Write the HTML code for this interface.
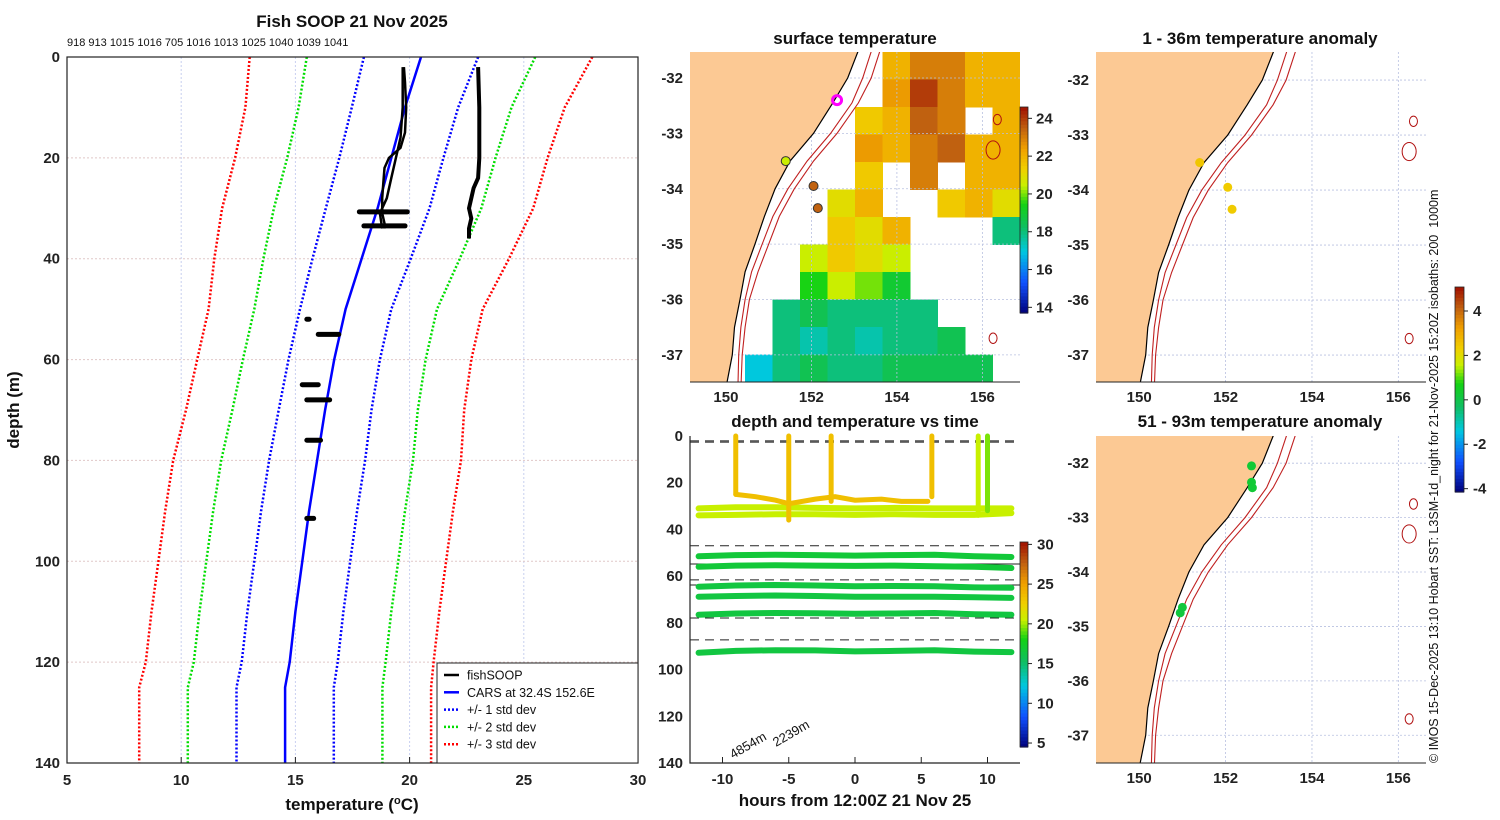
<!DOCTYPE html>
<html><head><meta charset="utf-8">
<style>
html,body{margin:0;padding:0;background:#fff;}
svg{display:block;font-family:"Liberation Sans","DejaVu Sans",sans-serif;}
.tk{font-weight:bold;font-size:15px;fill:#222;}
.ttl{font-weight:bold;font-size:17px;fill:#111;}
</style></head>
<body>
<svg id="fig" width="1500" height="820" viewBox="0 0 1500 820" xmlns="http://www.w3.org/2000/svg">
<rect width="1500" height="820" fill="#fff"/>
<text class="ttl" x="352" y="27" text-anchor="middle">Fish SOOP 21 Nov 2025</text>
<text x="67" y="46" font-size="11" fill="#111">918 913 1015 1016 705 1016 1013 1025 1040 1039 1041</text>
<text class="ttl" x="352" y="810" text-anchor="middle">temperature (<tspan font-size="11" dy="-6">o</tspan><tspan dy="6">C)</tspan></text>
<text class="ttl" transform="translate(19,410) rotate(-90)" text-anchor="middle">depth (m)</text>
<text class="ttl" x="855" y="44" text-anchor="middle">surface temperature</text>
<text class="ttl" x="855" y="427" text-anchor="middle">depth and temperature vs time</text>
<text class="ttl" x="855" y="806" text-anchor="middle">hours from 12:00Z 21 Nov 25</text>
<text class="ttl" x="1260" y="44" text-anchor="middle">1 - 36m temperature anomaly</text>
<text class="ttl" x="1260" y="427" text-anchor="middle">51 - 93m temperature anomaly</text>
<text transform="translate(1438,763) rotate(-90)" font-size="12.5" fill="#111">© IMOS 15-Dec-2025 13:10 Hobart SST: L3SM-1d_night for 21-Nov-2025 15:20Z isobaths: 200&#160;&#160;1000m</text>
<g id="g"></g>
</svg>
<script>
// ---------- DATA ----------
const cDepth=[0,10,20,30,40,50,60,70,80,90,100,110,120,125,130,140];
const cMean=[20.5,19.8,19.2,18.6,17.9,17.2,16.7,16.3,15.95,15.6,15.3,15.0,14.75,14.55,14.55,14.55];
const cSd=[2.5,2.33,2.28,2.27,2.15,2.0,2.0,2.03,2.1,2.1,2.1,2.1,2.1,2.13,2.13,2.13];
const fA_d=[2,5,10,15,18,20,22,25,28,31,33,34];
const fA_t=[19.75,19.8,19.85,19.8,19.6,19.1,18.9,18.85,18.8,18.8,18.9,18.9];
const fB_d=[2,10,16,20,24,28,31,34];
const fB_t=[19.7,19.7,19.6,19.4,19.2,19.0,18.7,18.8];
const fC_d=[2,10,20,24,26,28,30,32,34,36];
const fC_t=[23.0,23.05,23.05,23.0,22.8,22.7,22.6,22.7,22.6,22.6];
const blobD=[30.7,33.5,52,55,65,68,76,91.5];
const blobT0=[17.8,18.0,15.5,16.0,15.3,15.5,15.5,15.5];
const blobT1=[19.9,19.8,15.6,16.9,16.0,16.5,16.1,15.8];
// SST grid 12x12 (0 = no data)
const sst=[
[0,0,0,0,0,0,0,22,23,23,22,22],
[0,0,0,0,0,0,0,22.5,24,23,22,22],
[0,0,0,0,0,0,21.5,22,23.5,23,0,22],
[0,0,0,0,0,0,22.5,22,23,23.5,22,22],
[0,0,0,0,0,0,21.5,0,23,0,22,22],
[0,0,0,0,0,21,22,0,0,21.5,22,21],
[0,0,0,0,0,21.5,21,22,0,0,0,18],
[0,0,0,0,20.5,21.5,21,20.5,0,0,0,0],
[0,0,0,0,19.5,20.5,20,19,0,0,0,0],
[0,0,0,18,18.5,18,18,18,18,0,0,0],
[0,0,0,18,17.5,18,17.5,18,18,18.5,0,0],
[0,0,17,18,18.5,18,18,18.5,18.5,18.5,18.5,0]];
const coastLon=[153.15,152.85,152.5,152.05,151.5,151.15,150.9,150.68,150.45,150.33,150.2,150.15,150.0];
const coastLat=[-31.4,-32.0,-32.45,-33.0,-33.5,-34.0,-34.5,-35.0,-35.5,-36.0,-36.5,-37.0,-37.6];
const iso200=[153.45,153.2,152.95,152.45,151.9,151.45,151.1,150.85,150.6,150.45,150.35,150.3,150.28];
const iso1000=[153.65,153.4,153.1,152.6,152.05,151.6,151.25,151.0,150.75,150.55,150.45,150.38,150.35];
const sstDotLon=[152.6,151.4,152.05,152.15];
const sstDotLat=[-32.4,-33.5,-33.95,-34.35];
const sstDotVal=[null,20.5,23.5,23.5];
const anomTopLon=[151.4,152.05,152.15];
const anomTopLat=[-33.5,-33.95,-34.35];
const anomTopVal=[2.5,2.4,2.4];
const anomBotLon=[152.6,152.6,152.62,151.0,150.95];
const anomBotLat=[-32.05,-32.35,-32.45,-34.65,-34.75];
const anomBotVal=[0.3,0.3,0.3,0.2,0.2];
const trkHours=[-12,-9,-6,-3,0,3,6,9,12];
const trkDepth=[[31,30.5,30.5,30.8,31,30.8,31,31,31],[34,33.8,33.5,33.5,33.8,33.5,33.8,33.8,33],
[51.5,51,50.8,51,51.2,51,50.8,51.5,51.8],[56,55.5,55.3,55.5,55.6,55.5,55.8,56,56.5],
[64.5,64,63.8,64,64.3,64.2,64.3,64.8,65],[68.8,68.5,68.3,68.5,68.8,68.8,68.8,69,69.3],
[76.5,76,75.8,75.9,76.1,76,75.8,76.3,76.5],[92.8,92,91.7,91.8,92.2,92,91.7,92.3,92.5]];
const trkTemp=[20.5,20.5,16.8,16.8,16.5,16.5,16.5,16.5];
const vHours=[-9,-5,-1.8,5.8,9.3,10];
const vBottom=[25,36,28,26,34,32];
const vTemp=[23.5,23.5,23.5,23.5,20.5,19.5];
const ridgeHours=[-9,-7.5,-6,-5,-3,-1.5,0,2,3.5,5.5];
const ridgeDepth=[25,26,27.5,29,27,26,27.5,27,28,28];
const dashDepths=[2.1,2.6,47,54.8,61.6,63.8,77.9,87.3];

// ---------- HELPERS ----------
const NS='http://www.w3.org/2000/svg';
const G=document.getElementById('g');
function el(t,a,p){const e=document.createElementNS(NS,t);for(const k in a)e.setAttribute(k,a[k]);(p||G).appendChild(e);return e;}
const stops=[[0,[0,0,120]],[0.15,[16,80,255]],[0.3,[0,200,224]],[0.42,[16,190,96]],[0.53,[20,210,20]],[0.62,[200,240,0]],[0.7,[240,208,0]],[0.8,[240,160,0]],[0.9,[192,96,16]],[1,[160,16,0]]];
function cmap(f){f=Math.max(0,Math.min(1,f));for(let i=1;i<stops.length;i++){if(f<=stops[i][0]){const a=stops[i-1],b=stops[i];const u=(f-a[0])/(b[0]-a[0]);const c=a[1].map((v,j)=>Math.round(v+(b[1][j]-v)*u));return `rgb(${c})`;}}return 'rgb(160,16,0)';}

// ---------- LEFT PROFILE PLOT ----------
const X=t=>67+(t-5)*571/25, Y=d=>57+d*706/140;
for(const t of [10,15,20,25]){const l=el('line',{x1:X(t),x2:X(t),y1:57,y2:763,stroke:'#c8d0f0','stroke-dasharray':'2,2'});}
for(const d of [20,40,60,80,100,120]){const l=el('line',{x1:67,x2:638,y1:Y(d),y2:Y(d),stroke:'#e0c8c8','stroke-dasharray':'2,2'});}
function line(xs,ys,st,fx,fy){return xs.map((v,i)=>(i?'L':'M')+fx(v).toFixed(1)+','+fy(ys[i]).toFixed(1)).join('');}
const sdColors=['#0000ff','#00dd00','#ff0000'];
[1,2,3].forEach((k,i)=>{for(const s of [-1,1]){const p=el('path',{d:line(cMean.map((m,j)=>m+s*k*cSd[j]),cDepth,null,X,Y),fill:'none',stroke:sdColors[i],'stroke-width':2.5,'stroke-dasharray':'2,2'});}});
{const p=el('path',{d:line(cMean,cDepth,null,X,Y),fill:'none',stroke:'#0000ff','stroke-width':2.5});}
[[fA_t,fA_d],[fB_t,fB_d],[fC_t,fC_d]].forEach((pr,i)=>{const p=el('path',{d:line(pr[0],pr[1],null,X,Y),fill:'none',stroke:'#000','stroke-width':i==2?4:2.5});});
blobD.forEach((d,i)=>{const p=el('line',{x1:X(blobT0[i]),x2:X(blobT1[i]),y1:Y(d),y2:Y(d),stroke:'#000','stroke-width':5,'stroke-linecap':'round'});});
{const r=el('rect',{x:67,y:57,width:571,height:706,fill:'none',stroke:'#222','stroke-width':1.2});}
for(const t of [5,10,15,20,25,30]){const tx=el('text',{x:X(t),y:785,class:'tk','text-anchor':'middle'});tx.textContent=t;el('line',{x1:X(t),x2:X(t),y1:763,y2:757,stroke:'#222'});}
for(const d of [0,20,40,60,80,100,120,140]){const tx=el('text',{x:60,y:Y(d)+5,class:'tk','text-anchor':'end'});tx.textContent=d;}
// legend
{const lg=el('g',{});
el('rect',{x:437,y:663,width:201,height:100,fill:'#fff',stroke:'#222'},lg);
const items=[['fishSOOP','#000',''],['CARS at 32.4S 152.6E','#0000ff',''],['+/- 1 std dev','#0000ff','2,2'],['+/- 2 std dev','#00dd00','2,2'],['+/- 3 std dev','#ff0000','2,2']];
items.forEach((it,i)=>{const y=675+i*17.3;el('line',{x1:444,x2:459,y1:y,y2:y,stroke:it[1],'stroke-width':2.5,'stroke-dasharray':it[2]},lg);const t=el('text',{x:467,y:y+4.5,'font-size':12.5,fill:'#111'},lg);t.textContent=it[0];});}

// ---------- MAPS ----------
function drawMap(o){
 const mx=l=>o.x+(l-o.lon0)/(o.lon1-o.lon0)*o.w, my=a=>o.y+(o.lat0-a)/(o.lat0-o.lat1)*o.h;
 const g=el('g',{});
 const cid='clip'+o.name;const cp=el('clipPath',{id:cid},g);el('rect',{x:o.x,y:o.y,width:o.w,height:o.h},cp);
 const inner=el('g',{'clip-path':`url(#${cid})`},g);
 if(o.grid){const n=o.grid.length,cw=o.w/n,ch=o.h/n;o.grid.forEach((row,r)=>row.forEach((v,c)=>{if(v){const re=el('rect',{x:o.x+c*cw,y:o.y+r*ch,width:cw+0.5,height:ch+0.5,fill:cmap((v-13.7)/(24.6-13.7))},inner);}}));}
 for(const l of [150,152,154,156])el('line',{x1:mx(l),x2:mx(l),y1:o.y,y2:o.y+o.h,stroke:'#b8c0e0','stroke-dasharray':'2,2','stroke-width':0.8},inner);
 for(const a of [-32,-33,-34,-35,-36,-37])el('line',{x1:o.x,x2:o.x+o.w,y1:my(a),y2:my(a),stroke:'#b8c0e0','stroke-dasharray':'2,2','stroke-width':0.8},inner);
 let d='M'+(o.x-5)+','+(o.y-5);coastLon.forEach((l,i)=>{d+='L'+mx(l).toFixed(1)+','+my(coastLat[i]).toFixed(1);});d+='L'+(o.x-5)+','+(o.y+o.h+5)+'Z';
 const land=el('path',{d:d,fill:'#fcc994',stroke:'#000','stroke-width':1.2},inner);
 for(const iso of [iso200,iso1000]){const p=el('path',{d:line(iso,coastLat,null,mx,my),fill:'none',stroke:'#c02020','stroke-width':1.1},inner);}
 for(const [l,a,r] of [[156.35,-32.75,4],[156.25,-33.3,7],[156.25,-36.7,4]])el('ellipse',{cx:mx(l),cy:my(a),rx:r,ry:r*1.3,fill:'none',stroke:'#b01010','stroke-width':1},inner);
 o.dLon.forEach((l,i)=>{const v=o.dVal[i];const c=el('circle',{cx:mx(l),cy:my(o.dLat[i]),r:o.dr,fill:v==null?'none':o.col(v),stroke:v==null?'#ff00ff':o.dStroke,'stroke-width':v==null?3:1},inner);});
 el('line',{x1:o.x,x2:o.x+o.w,y1:o.y+o.h,y2:o.y+o.h,stroke:'#222'},g);
 for(const a of [-32,-33,-34,-35,-36,-37]){const t=el('text',{x:o.x-7,y:my(a)+5,class:'tk','text-anchor':'end'},g);t.textContent=a;}
 for(const l of [150,152,154,156]){const t=el('text',{x:mx(l),y:o.y+o.h+20,class:'tk','text-anchor':'middle'},g);t.textContent=l;}
}
const anomCol=v=>cmap((v+4.15)/(5.08+4.15));
drawMap({name:'sst-map',x:690,y:52,w:330,h:330,lon0:149.16,lon1:156.88,lat0:-31.53,lat1:-37.49,grid:sst,dLon:sstDotLon,dLat:sstDotLat,dVal:sstDotVal,dr:4.5,dStroke:'#333',col:v=>cmap((v-13.7)/(24.6-13.7))});
drawMap({name:'anomaly-map-top',x:1096,y:52,w:330,h:330,lon0:149.0,lon1:156.64,lat0:-31.49,lat1:-37.49,dLon:anomTopLon,dLat:anomTopLat,dVal:anomTopVal,dr:4.5,dStroke:'none',col:anomCol});
drawMap({name:'anomaly-map-bottom',x:1096,y:436,w:330,h:327,lon0:149.0,lon1:156.64,lat0:-31.5,lat1:-37.51,dLon:anomBotLon,dLat:anomBotLat,dVal:anomBotVal,dr:4.5,dStroke:'none',col:anomCol});

// ---------- TIME PANEL ----------
const HX=h=>855+h*13.25, DY=d=>436+d*327/140;
const tcol=v=>cmap((v-4.5)/(30.3-4.5));
dashDepths.forEach((d,i)=>{const l=el('line',{x1:690,x2:1020,y1:DY(d),y2:DY(d),stroke:'#222','stroke-width':1,'stroke-dasharray':(i==3||i==5)?'':'9,6'});});
trkDepth.forEach((arr,i)=>{const p=el('path',{d:line(trkHours.map(h=>Math.max(-11.8,Math.min(11.8,h))),arr,null,HX,DY),fill:'none',stroke:tcol(trkTemp[i]),'stroke-width':6,'stroke-linecap':'round'});});
{const p=el('path',{d:line(ridgeHours,ridgeDepth,null,HX,DY),fill:'none',stroke:tcol(23.5),'stroke-width':5,'stroke-linecap':'round'});}
vHours.forEach((h,i)=>{const p=el('line',{x1:HX(h),x2:HX(h),y1:DY(0),y2:DY(vBottom[i]),stroke:tcol(vTemp[i]),'stroke-width':5,'stroke-linecap':'round'});});
el('path',{d:'M690,436V763H1020',fill:'none',stroke:'#222','stroke-width':1.2});
for(const h of [-10,-5,0,5,10]){el('line',{x1:HX(h),x2:HX(h),y1:763,y2:757,stroke:'#222'});const t=el('text',{x:HX(h),y:784,class:'tk','text-anchor':'middle'});t.textContent=h;}
for(const d of [0,20,40,60,80,100,120,140]){const t=el('text',{x:683,y:DY(d)+5,class:'tk','text-anchor':'end'});t.textContent=d;}
for(const [x,y,s] of [[733,759,'4854m'],[776,747,'2239m']]){const t=el('text',{transform:`translate(${x},${y}) rotate(-30)`,'font-size':13,fill:'#111'});t.textContent=s;}

// ---------- COLORBARS ----------
function cbar(name,x,y,w,h,vmin,vmax,ticks,dx){const g=el('g',{});
 const n=60;for(let i=0;i<n;i++)el('rect',{x:x,y:y+h-(i+1)*h/n,width:w,height:h/n+0.6,fill:cmap((i+0.5)/n)},g);
 el('rect',{x:x,y:y,width:w,height:h,fill:'none',stroke:'#222','stroke-width':0.8},g);
 for(const t of ticks){const ty=y+h-(t-vmin)/(vmax-vmin)*h;el('line',{x1:x+w,x2:x+w+4,y1:ty,y2:ty,stroke:'#222'},g);const tx=el('text',{x:x+w+dx,y:ty+5,class:'tk','font-size':13},g);tx.textContent=t;}}
cbar('sst-colorbar',1020,107,8,206,13.7,24.6,[14,16,18,20,22,24],8);
cbar('time-temp-colorbar',1020,542,8,205,4.5,30.3,[5,10,15,20,25,30],9);
cbar('anomaly-colorbar',1455,287,9,205,-4.15,5.08,[-4,-2,0,2,4],9);
</script>
</body></html>
